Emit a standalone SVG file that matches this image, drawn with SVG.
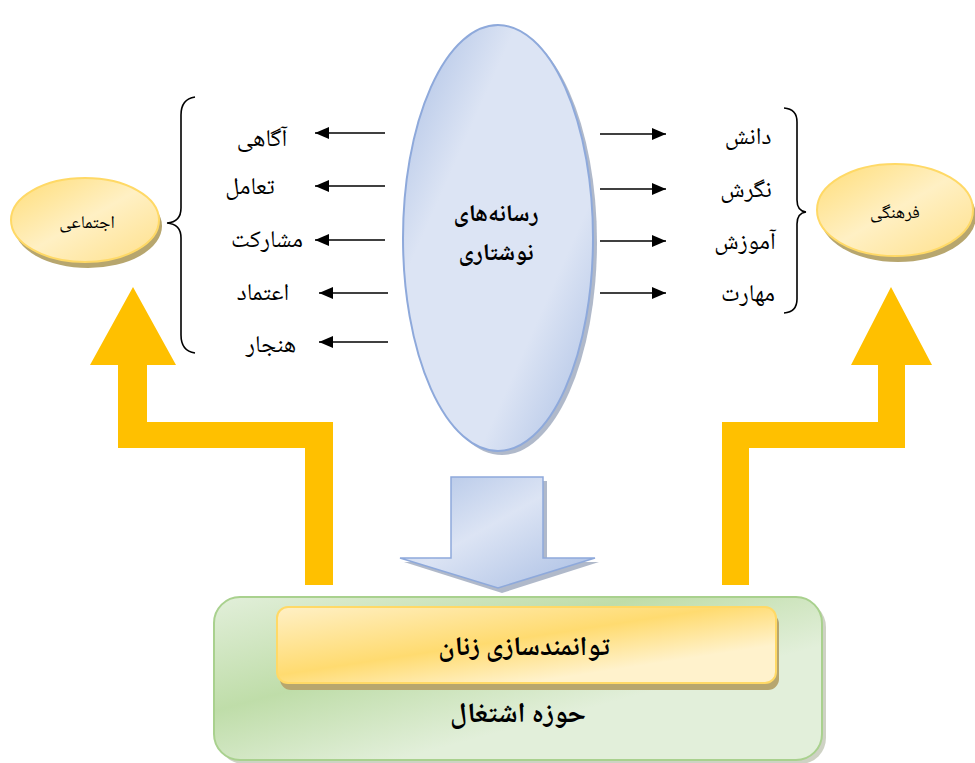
<svg xmlns="http://www.w3.org/2000/svg" width="975" height="763" viewBox="0 0 975 763">
<defs>
<style>
.lbl{font-family:"Noto Naskh Arabic","Noto Sans Arabic","DejaVu Sans",sans-serif;font-size:24px;fill:#000;text-anchor:middle}
.bold{font-weight:bold}
.conn{stroke:#000;stroke-width:1.5;fill:none}
.brace{stroke:#000;stroke-width:1.6;fill:none}
.yarrow{fill:#FFC000}
</style>
<marker id="ah" viewBox="0 0 14 12" refX="14" refY="6" markerWidth="14" markerHeight="12" markerUnits="userSpaceOnUse" orient="auto">
<path d="M0,0 L14,6 L0,12 z" fill="#000"/>
</marker>
<linearGradient id="gBlue" x1="0" y1="0" x2="1" y2="1">
<stop offset="0" stop-color="#A8BDE3"/>
<stop offset="0.3" stop-color="#DCE4F4"/>
<stop offset="0.7" stop-color="#DCE4F4"/>
<stop offset="1" stop-color="#A8BDE3"/>
</linearGradient>
<linearGradient id="gBlueArrow" x1="0" y1="0" x2="1" y2="1">
<stop offset="0" stop-color="#AFC3E6"/>
<stop offset="0.45" stop-color="#DCE4F4"/>
<stop offset="1" stop-color="#A8BDE3"/>
</linearGradient>
<linearGradient id="gYellow" x1="0" y1="0" x2="1" y2="1">
<stop offset="0" stop-color="#FFDD77"/>
<stop offset="0.5" stop-color="#FFF0C4"/>
<stop offset="1" stop-color="#FFE08A"/>
</linearGradient>
<linearGradient id="gBar" x1="0" y1="0" x2="1" y2="1">
<stop offset="0" stop-color="#FFF0C6"/>
<stop offset="0.45" stop-color="#FFDB70"/>
<stop offset="0.75" stop-color="#FFF2CC"/>
<stop offset="1" stop-color="#FFF2CC"/>
</linearGradient>
<linearGradient id="gGreen" x1="0" y1="0" x2="1" y2="1">
<stop offset="0" stop-color="#E2EFDA"/>
<stop offset="0.35" stop-color="#BFDDA9"/>
<stop offset="0.65" stop-color="#E2EFDA"/>
<stop offset="1" stop-color="#E2EFDA"/>
</linearGradient>
</defs>

<g id="yellow-arrows">
<path class="yarrow" d="M305,585 L333,585 L333,422 L147,422 L147,365 L176,365 L133,287 L90,365 L118,365 L118,448 L305,448 Z"/>
<path class="yarrow" d="M722,585 L749,585 L749,448 L905,448 L905,365 L932,365 L891,287 L851,365 L878,365 L878,422 L722,422 Z"/>
</g>

<g id="node-employment">
<rect x="218" y="601" width="608" height="163" rx="26" fill="#9DA58A" opacity="0.5"/>
<rect x="214" y="597" width="608" height="163" rx="26" fill="url(#gGreen)" stroke="#A9D18E" stroke-width="2"/>
<text class="lbl bold" x="518" y="722" style="font-size:28px">حوزه اشتغال</text>
</g>

<g id="node-empowerment">
<rect x="280" y="613" width="499" height="77" rx="11" fill="#B7A66E"/>
<rect x="277" y="607" width="499" height="76" rx="11" fill="url(#gBar)" stroke="#FFD966" stroke-width="2"/>
<text class="lbl bold" x="524" y="655" style="font-size:27px">توانمندسازی زنان</text>
</g>

<g id="node-arrow-down">
<path d="M455,481 L547,481 L547,562 L599,562 L502,593 L404,562 L455,562 Z" fill="#8F9BB3" opacity="0.7"/>
<path d="M451,477 L543,477 L543,558 L595,558 L498,588 L400,558 L451,558 Z" fill="url(#gBlueArrow)" stroke="#8EA9DB" stroke-width="1.5"/>
</g>

<g id="node-media">
<ellipse cx="502" cy="242" rx="95" ry="213" fill="#8F9BB3" opacity="0.7"/>
<ellipse cx="498" cy="238" rx="95" ry="213" fill="url(#gBlue)" stroke="#8EA9DB" stroke-width="2"/>
<text class="lbl bold" x="496" y="221" style="font-size:24px">رسانه‌های</text>
<text class="lbl bold" x="496" y="260" style="font-size:24px">نوشتاری</text>
</g>

<g id="node-social">
<ellipse cx="88" cy="226" rx="74" ry="42" fill="#B7A66E"/>
<ellipse cx="85" cy="220" rx="74" ry="42" fill="url(#gYellow)" stroke="#FFD966" stroke-width="2"/>
<text class="lbl" x="87" y="228" style="font-size:18px">اجتماعی</text>
</g>

<g id="node-cultural">
<ellipse cx="898" cy="216" rx="78" ry="46" fill="#B7A66E"/>
<ellipse cx="895" cy="210" rx="78" ry="46" fill="url(#gYellow)" stroke="#FFD966" stroke-width="2"/>
<text class="lbl" x="895" y="218" style="font-size:18px">فرهنگی</text>
</g>

<g id="labels-left">
<text class="lbl" x="262" y="146">آگاهی</text>
<text class="lbl" x="250" y="194">تعامل</text>
<text class="lbl" x="267" y="247">مشارکت</text>
<text class="lbl" x="263" y="300">اعتماد</text>
<text class="lbl" x="271" y="352">هنجار</text>
</g>

<g id="labels-right">
<text class="lbl" x="748" y="144">دانش</text>
<text class="lbl" x="746" y="197">نگرش</text>
<text class="lbl" x="745" y="249">آموزش</text>
<text class="lbl" x="748" y="301">مهارت</text>
</g>

<g id="connectors">
<line class="conn" x1="385" y1="133" x2="315" y2="133" marker-end="url(#ah)"/>
<line class="conn" x1="385" y1="186" x2="315" y2="186" marker-end="url(#ah)"/>
<line class="conn" x1="385" y1="240" x2="315" y2="240" marker-end="url(#ah)"/>
<line class="conn" x1="388" y1="293" x2="319" y2="293" marker-end="url(#ah)"/>
<line class="conn" x1="388" y1="342" x2="319" y2="342" marker-end="url(#ah)"/>
<line class="conn" x1="600" y1="134" x2="666" y2="134" marker-end="url(#ah)"/>
<line class="conn" x1="600" y1="189" x2="666" y2="189" marker-end="url(#ah)"/>
<line class="conn" x1="600" y1="241" x2="666" y2="241" marker-end="url(#ah)"/>
<line class="conn" x1="600" y1="293" x2="666" y2="293" marker-end="url(#ah)"/>
<path class="brace" d="M195,97 Q181,99 181,115 L181,208 Q181,222 167,223 Q181,224 181,238 L181,335 Q181,351 195,353"/>
<path class="brace" d="M784,108 Q797,109 797,122 L797,200 Q797,211 806,212 Q797,213 797,224 L797,299 Q797,312 784,313"/>
</g>
</svg>
